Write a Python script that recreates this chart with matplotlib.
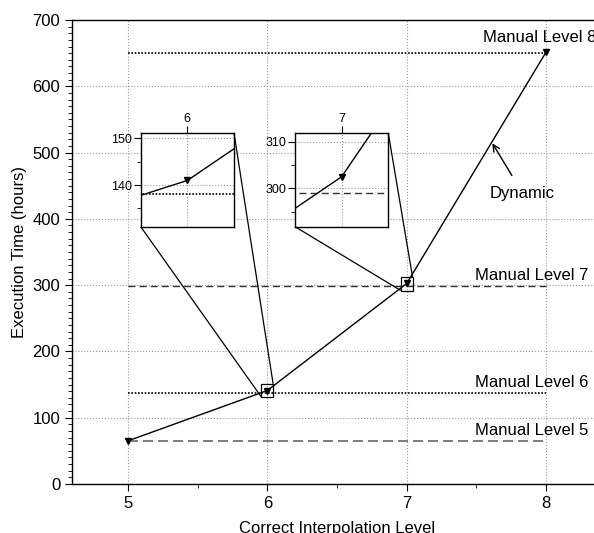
import matplotlib.pyplot as plt
from matplotlib.ticker import MultipleLocator
from mpl_toolkits.axes_grid1.inset_locator import mark_inset

plt.rcParams['font.family'] = ['Liberation Sans', 'DejaVu Sans']

# data
levels = [5, 6, 7, 8]
dynamic = [65, 141, 302.5, 652]
manual = [64.5, 138, 299, 650]
manual_labels = ["Manual Level 5", "Manual Level 6", "Manual Level 7", "Manual Level 8"]
manual_styles = [
    dict(color="#666666", linestyle=(0, (6, 3)), linewidth=1.2),
    dict(color="black", linestyle=(0, (1, 1)), linewidth=1.2),
    dict(color="#333333", linestyle=(0, (5, 3)), linewidth=1.0),
    dict(color="black", linestyle=(0, (1, 1)), linewidth=1.2),
]
label_x = [7.49, 7.49, 7.49, 7.545]

fig = plt.figure(figsize=(5.94, 5.33), dpi=100)
ax = fig.add_axes([72 / 594, 49 / 533, 530 / 594, 464 / 533])


def draw(a):
    for y, st in zip(manual, manual_styles):
        a.plot([levels[0], levels[-1]], [y, y], **st, zorder=2)
    a.plot(levels, dynamic, color="black", linewidth=1.0, marker="v",
           markersize=4, zorder=3)
    a.grid(True, linestyle=":", color="#999999", linewidth=0.8)
    a.set_axisbelow(True)
    for s in a.spines.values():
        s.set_color("black")
        s.set_linewidth(1.0)


draw(ax)
ax.set_xlim(4.6, 8.4)
ax.set_ylim(0, 700)
ax.set_xticks(levels)
ax.xaxis.set_minor_locator(MultipleLocator(0.5))
ax.yaxis.set_major_locator(MultipleLocator(100))
ax.yaxis.set_minor_locator(MultipleLocator(10))
ax.tick_params(which="major", direction="out", length=5, labelsize=12)
ax.tick_params(which="minor", direction="out", length=3)
ax.set_xlabel("Correct Interpolation Level", fontsize=12, labelpad=7)
ax.set_ylabel("Execution Time (hours)", fontsize=12)

for x, y, txt in zip(label_x, manual, manual_labels):
    off = 6 if txt.endswith("8") else 2
    ax.annotate(txt, (x, y), xytext=(0, off), textcoords="offset points",
                ha="left", va="bottom", fontsize=12, annotation_clip=False)

ax.annotate("Dynamic", xy=(7.614, 514), xytext=(7.83, 439),
            ha="center", va="center", fontsize=12,
            arrowprops=dict(arrowstyle="->", color="black", linewidth=1.0,
                            shrinkA=6, shrinkB=0))

# zoom insets
insets = [
    ([140.7 / 594, 306.3 / 533, 93.3 / 594, 93.4 / 533], 6, (131.1, 151.1), [140, 150]),
    ([295 / 594, 306.3 / 533, 93.3 / 594, 93.4 / 533], 7, (291.8, 311.8), [300, 310]),
]
half_w = 0.042
for pos, cx, ylim, yt in insets:
    ia = fig.add_axes(pos)
    draw(ia)
    ia.set_xlim(cx - half_w, cx + half_w)
    ia.set_ylim(*ylim)
    ia.set_xticks([cx])
    ia.set_yticks(yt)
    ia.yaxis.set_minor_locator(MultipleLocator(5))
    ia.xaxis.tick_top()
    ia.tick_params(which="major", direction="out", length=5, labelsize=9, pad=1)
    ia.tick_params(which="minor", direction="out", length=3)
    ia.set_facecolor("white")
    mark_inset(ax, ia, loc1=1, loc2=3, fc="none", ec="black", linewidth=0.9)

fig.savefig("out.png", dpi=100)
